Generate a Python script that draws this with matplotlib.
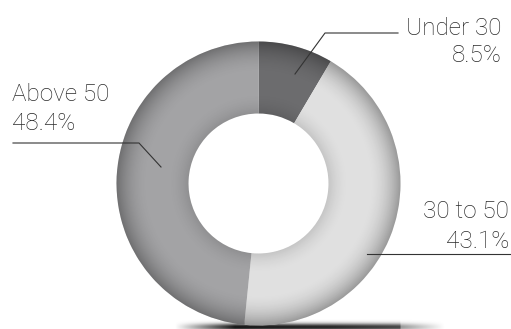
import numpy as np
import matplotlib
matplotlib.use('Agg')
import matplotlib.pyplot as plt
from matplotlib.patches import Wedge

labels = ['Under 30', '30 to 50', 'Above 50']
shares = [8.5, 43.1, 48.4]
colors = ['#6c6c6e', '#e0e0e0', '#a3a3a5']

W, H = 511, 329
cx, cy = 258.5, 183.5      # ring centre, pixels
r_out, r_in = 142, 70

plt.rcParams['font.family'] = ['Roboto', 'DejaVu Sans']

fig = plt.figure(figsize=(W / 100, H / 100), dpi=100)
ax = fig.add_axes([0, 0, 1, 1])

# shadow under the ring
yy, xx = np.mgrid[0:H, 0:W] + 0.5
ax_prof = np.interp(xx, [175, 235, 330, 400, 401, 445], [0, 0.92, 0.85, 0.72, 0.4, 0])
ay_prof = np.exp(-((yy - 327) / 3.6) ** 2)
shadow = np.zeros((H, W, 4))
shadow[..., 3] = ax_prof * ay_prof
ax.imshow(shadow, extent=(0, W, H, 0), origin='upper', zorder=1, interpolation='bilinear')

# y axis runs downwards, so startangle -90 is the top and counterclock draws clockwise
ax.pie(shares, colors=colors, startangle=-90, counterclock=True,
       center=(cx, cy), radius=r_out,
       wedgeprops=dict(width=r_out - r_in, linewidth=0, zorder=2))

# radial shading for the 3d look
rr = np.hypot(xx - cx, yy - cy)
t = np.clip((rr - r_in) / (r_out - r_in), 0, 1)
dark = 0.32 * np.clip((t - 0.55) / 0.45, 0, 1) ** 2 + 0.12 * np.clip((0.3 - t) / 0.3, 0, 1) ** 2
shade = np.zeros((H, W, 4))
shade[..., 3] = dark
im = ax.imshow(shade, extent=(0, W, H, 0), origin='upper', zorder=3, interpolation='bilinear')
im.set_clip_path(Wedge((cx, cy), r_out, 0, 360, width=r_out - r_in, transform=ax.transData))

ax.set_xlim(0, W)
ax.set_ylim(H, 0)
ax.set_aspect('auto')
ax.axis('off')

txt = dict(fontsize=17.5, color='#2a2a2a', fontweight='light', va='baseline')
line = dict(color='#333333', lw=0.8, zorder=5)

# Under 30
ax.text(502, 35, labels[0], ha='right', **txt)
ax.text(502, 62, f'{shares[0]}%', ha='right', **txt)
ax.plot([398, 325, 295], [33, 33, 74], **line)

# 30 to 50
ax.text(509, 218, labels[1], ha='right', **txt)
ax.text(509, 248, f'{shares[1]}%', ha='right', **txt)
ax.plot([511, 367], [254, 254], **line)

# Above 50
ax.text(12, 101, labels[2], ha='left', **txt)
ax.text(12, 130, f'{shares[2]}%', ha='left', **txt)
ax.plot([13, 139, 161], [143, 143, 167], **line)

fig.savefig('out.png', dpi=100)
